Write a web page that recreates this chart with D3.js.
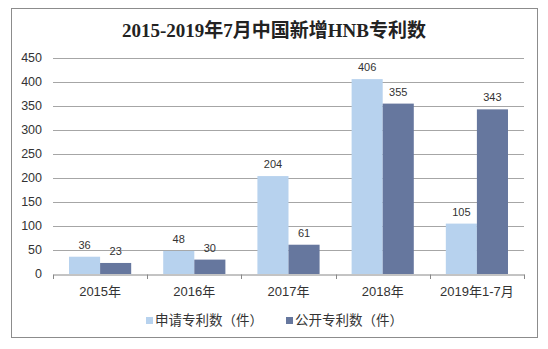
<!DOCTYPE html>
<html>
<head>
<meta charset="utf-8">
<script src="https://cdn.jsdelivr.net/npm/d3@7"></script>
<style>
  html, body { margin: 0; padding: 0; background: #fff; }
  svg { display: block; }
</style>
</head>
<body>
<svg id="chart" width="548" height="349"></svg>
<script>
const title = "2015-2019年7月中国新增HNB专利数";
const categories = ["2015年", "2016年", "2017年", "2018年", "2019年1-7月"];
const seriesNames = ["申请专利数（件）", "公开专利数（件）"];
const applied = [36, 48, 204, 406, 105];
const published = [23, 30, 61, 355, 343];
const yTicks = [0, 50, 100, 150, 200, 250, 300, 350, 400, 450];
const colors = ["#B7D2EE", "#66779E"];

const svg = d3.select("#chart");
const sansFont = "'Liberation Sans', Arial, 'Noto Sans CJK SC', sans-serif";

// outer border
svg.append("rect").attr("x", 11.5).attr("y", 8.5).attr("width", 526).attr("height", 329)
  .attr("fill", "#fff").attr("stroke", "#8c8c8c").attr("stroke-width", 1);

// title
svg.append("text").attr("x", 274).attr("y", 37).attr("text-anchor", "middle")
  .attr("font-family", "'Liberation Serif', 'DejaVu Serif', 'Noto Sans CJK SC', serif")
  .attr("font-weight", "bold").attr("font-size", 19).attr("fill", "#222")
  .text(title);

const x0 = d3.scaleBand().domain(categories).range([53, 524]).paddingInner(0).paddingOuter(0);
const groupPad = 0.17;
const x1 = d3.scaleBand().domain([0, 1])
  .range([x0.bandwidth() * groupPad, x0.bandwidth() * (1 - groupPad)]).padding(0);
const y = d3.scaleLinear().domain([0, 450]).range([274, 58]);

// gridlines
svg.append("g").selectAll("line").data(yTicks.filter(d => d > 0)).join("line")
  .attr("x1", 53).attr("x2", 524)
  .attr("y1", d => Math.round(y(d)) + 0.5).attr("y2", d => Math.round(y(d)) + 0.5)
  .attr("stroke", "#a6a6a6").attr("stroke-width", 1);

// y labels
svg.append("g").selectAll("text").data(yTicks).join("text")
  .attr("x", 42).attr("y", d => y(d)).attr("dy", "0.35em").attr("text-anchor", "end")
  .attr("font-family", sansFont).attr("font-size", 12.5).attr("fill", "#333")
  .text(d => d);

// bars
const series = [applied, published];
const groups = svg.append("g").selectAll("g").data(categories).join("g")
  .attr("transform", d => `translate(${x0(d)},0)`);
groups.selectAll("rect").data((d, i) => series.map((s, k) => ({ k, v: s[i] }))).join("rect")
  .attr("x", d => x1(d.k)).attr("width", x1.bandwidth())
  .attr("y", d => y(d.v)).attr("height", d => y(0) - y(d.v))
  .attr("fill", d => colors[d.k]);
groups.selectAll("text").data((d, i) => series.map((s, k) => ({ k, v: s[i] }))).join("text")
  .attr("x", d => x1(d.k) + x1.bandwidth() / 2).attr("y", d => y(d.v) - 8)
  .attr("text-anchor", "middle").attr("font-family", sansFont).attr("font-size", 11)
  .attr("fill", "#333").text(d => d.v);

// x axis
const xAxis = d3.axisBottom(x0).tickSize(0).tickPadding(10);
const ax = svg.append("g").attr("transform", "translate(0,274.5)").call(xAxis);
ax.select(".domain").attr("stroke", "#888");
ax.selectAll(".tick text").attr("font-family", sansFont).attr("font-size", 13).attr("fill", "#333")
  .attr("dy", "0.9em");
// category boundary ticks
const bounds = categories.map(c => x0(c)).concat([x0.range()[1]]);
svg.append("g").selectAll("line").data(bounds).join("line")
  .attr("x1", d => Math.round(d) + 0.5).attr("x2", d => Math.round(d) + 0.5)
  .attr("y1", 274.5).attr("y2", 279).attr("stroke", "#888");

// legend
const legendX = [146, 286];
const leg = svg.append("g").selectAll("g").data(seriesNames).join("g")
  .attr("transform", (d, i) => `translate(${legendX[i]},320)`);
leg.append("rect").attr("x", 0).attr("y", -3).attr("width", 7).attr("height", 7)
  .attr("fill", (d, i) => colors[i]);
leg.append("text").attr("x", 9).attr("y", 0).attr("dy", "0.36em")
  .attr("font-family", sansFont).attr("font-size", 13.5).attr("fill", "#333")
  .text(d => d);
</script>
</body>
</html>
